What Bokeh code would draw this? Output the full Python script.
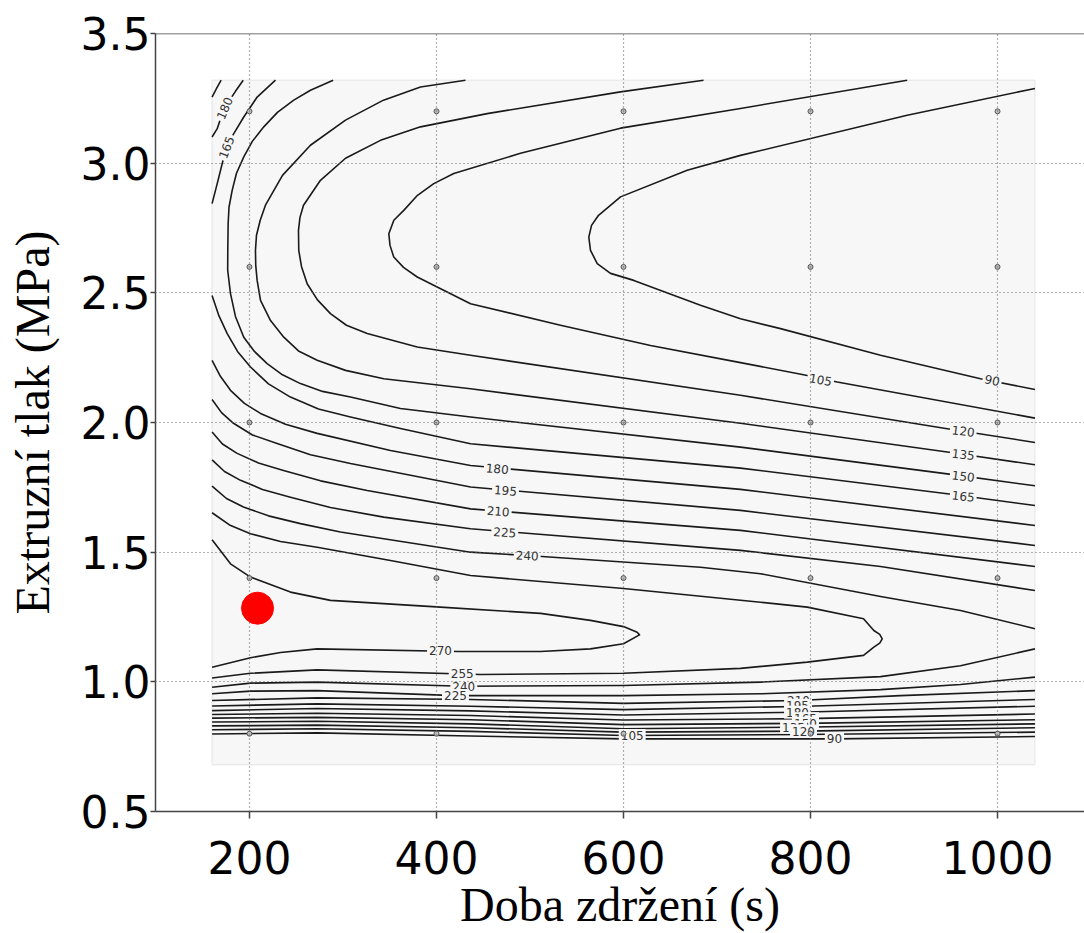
from bokeh.plotting import figure
from bokeh.models import Range1d, FixedTicker, PrintfTickFormatter, ColumnDataSource, Span
from bokeh.core.properties import value
from bokeh.embed import file_html
from bokeh.resources import INLINE

# ---------------- data ----------------
x_ticks = [200, 400, 600, 800, 1000]
y_ticks = [0.5, 1.0, 1.5, 2.0, 2.5, 3.0, 3.5]

design_x = [200, 400, 600, 800, 1000]
design_y = [0.8, 1.4, 2.0, 2.6, 3.2]

domain_x = [160, 1040]
domain_y = [0.68, 3.32]

optimum_x = [208.6]
optimum_y = [1.284]

# contour lines: (doba zdrzeni [s], extruzni tlak [MPa])
c90_top = [(1040, 3.288), (903.4, 3.185), (725.1, 3.030), (668.1, 2.973), (596.8, 2.870),
           (573.3, 2.799), (565.8, 2.760), (562.9, 2.715), (564.7, 2.664), (571.9, 2.613),
           (586.1, 2.575), (611.0, 2.548), (682.3, 2.452), (725.1, 2.400), (767.9, 2.362),
           (874.9, 2.259), (981.8, 2.169), (1040, 2.127)]
c105_top = [(903.4, 3.320), (725.1, 3.211), (596.8, 3.135), (489.8, 3.038), (418.5, 2.960),
            (397.1, 2.921), (379.7, 2.876), (365.0, 2.818), (354.4, 2.780), (349.0, 2.728),
            (350.3, 2.683), (354.3, 2.638), (364.7, 2.598), (379.4, 2.561), (436.4, 2.458),
            (532.6, 2.375), (628.9, 2.297), (725.1, 2.231), (792.5, 2.184), (828.5, 2.156),
            (1040, 2.017)]
c120_top = [(685.6, 3.320), (596.8, 3.275), (454.2, 3.191), (382.9, 3.140), (340.1, 3.088),
            (302.7, 3.019), (275.9, 2.934), (257.8, 2.838), (254.0, 2.791), (252.4, 2.741),
            (252.7, 2.664), (255.6, 2.602), (261.7, 2.535), (272.7, 2.473), (286.6, 2.420),
            (303.7, 2.375), (325.9, 2.343), (379.4, 2.291), (436.4, 2.259), (725.1, 2.105),
            (946.2, 1.976), (1040, 1.923)]
c135_top = [(431.0, 3.320), (382.9, 3.294), (343.3, 3.243), (302.7, 3.166), (265.2, 3.069),
            (235.3, 2.953), (217.1, 2.838), (211.5, 2.780), (207.5, 2.722), (206.4, 2.664),
            (206.7, 2.606), (208.2, 2.548), (211.8, 2.471), (222.5, 2.393), (236.7, 2.329),
            (252.4, 2.276), (272.4, 2.240), (302.7, 2.201), (343.6, 2.169), (436.4, 2.130),
            (725.1, 1.997), (946.2, 1.886), (1040, 1.837)]
c150_top = [(289.5, 3.320), (265.2, 3.281), (247.4, 3.243), (229.9, 3.196), (215.3, 3.140),
            (203.2, 3.085), (193.9, 3.024), (186.1, 2.961), (181.5, 2.895), (178.1, 2.830),
            (177.2, 2.767), (176.8, 2.664), (176.7, 2.587), (179.7, 2.497), (185.0, 2.409),
            (193.9, 2.329), (205.3, 2.274), (218.9, 2.227), (235.3, 2.184), (254.5, 2.150),
            (278.1, 2.120), (308.0, 2.098), (361.5, 2.054), (436.4, 2.021), (725.1, 1.905),
            (946.2, 1.802), (1040, 1.756)]
c165_corner = [(227.8, 3.320), (208.2, 3.255), (193.9, 3.178), (183.2, 3.114), (175.4, 3.061),
               (170.8, 2.998), (165.5, 2.921), (160, 2.844)]
c165_mid = [(160, 2.490), (167.4, 2.411), (176.2, 2.343), (187.2, 2.274), (201.1, 2.214),
            (220.3, 2.149), (243.8, 2.098), (273.8, 2.052), (308.0, 2.021), (361.5, 1.977),
            (436.4, 1.918), (725.1, 1.824), (946.2, 1.725), (1040, 1.680)]
c180_corner = [(193.3, 3.320), (185.0, 3.277), (177.5, 3.236), (171.1, 3.193), (165.5, 3.133),
               (160, 3.101)]
c180_mid = [(160, 2.240), (168.9, 2.178), (179.7, 2.124), (194.6, 2.074), (211.8, 2.035),
            (238.5, 1.993), (272.4, 1.958), (350.8, 1.892), (436.4, 1.834), (725.1, 1.742),
            (1040, 1.603)]
c195_corner = [(169.7, 3.320), (164.8, 3.288), (160, 3.255)]
c195_mid = [(160, 2.089), (170.1, 2.038), (182.9, 1.997), (203.2, 1.952), (229.6, 1.919),
            (265.2, 1.876), (308.0, 1.842), (436.4, 1.751), (725.1, 1.661), (1040, 1.526)]
c210_mid = [(160, 1.963), (171.1, 1.917), (186.8, 1.881), (209.6, 1.844), (236.4, 1.815),
            (276.0, 1.775), (325.9, 1.738), (436.4, 1.667), (725.1, 1.584), (1040, 1.445)]
c225_mid = [(160, 1.856), (173.3, 1.811), (190.4, 1.777), (213.9, 1.742), (243.8, 1.712),
            (286.6, 1.672), (343.6, 1.635), (436.4, 1.590), (725.1, 1.507), (874.9, 1.445),
            (1040, 1.352)]
c240_mid = [(160, 1.755), (175.4, 1.707), (193.6, 1.674), (220.3, 1.640), (254.5, 1.610),
            (297.3, 1.578), (343.6, 1.552), (436.4, 1.500), (497.0, 1.487), (682.3, 1.442),
            (746.5, 1.417), (874.9, 1.329), (960.4, 1.275), (1040, 1.205)]
c255_loop = [(160, 1.652), (178.6, 1.605), (201.1, 1.571), (233.2, 1.541), (272.4, 1.519),
             (350.8, 1.468), (436.4, 1.410), (600, 1.360), (746.5, 1.307), (796.5, 1.288),
             (856.7, 1.243), (867.7, 1.198), (874.0, 1.183), (876.7, 1.166), (874.0, 1.149),
             (867.7, 1.134), (856.7, 1.102), (796.5, 1.076), (725.1, 1.052), (600, 1.033),
             (447.1, 1.028), (272.4, 1.046), (201.1, 1.033), (160, 1.015)]
c270_loop = [(160, 1.548), (179.7, 1.455), (201.1, 1.404), (243.8, 1.346), (286.6, 1.314),
             (404.3, 1.288), (511.2, 1.264), (564.7, 1.237), (600, 1.213), (614.6, 1.191),
             (617.1, 1.181), (600, 1.147), (564.7, 1.127), (511.2, 1.117), (423.5, 1.117),
             (272.4, 1.127), (233.2, 1.113), (201.1, 1.093), (160, 1.056)]
c240_low = [(160, 0.979), (201.1, 0.995), (272.4, 0.999), (428.9, 0.983), (600, 0.986),
            (746.5, 0.999), (874.9, 1.020), (960.4, 1.062), (1040, 1.127)]
c225_low = [(160, 0.954), (201.1, 0.964), (272.4, 0.966), (420.3, 0.947), (600, 0.947),
            (746.5, 0.954), (874.9, 0.970), (960.4, 0.990), (1040, 1.018)]
c210_low = [(160, 0.928), (272.4, 0.938), (436.4, 0.932), (600, 0.917), (786.1, 0.928),
            (896.2, 0.947), (1040, 0.966)]
c195_low = [(160, 0.907), (272.4, 0.915), (436.4, 0.906), (600, 0.893), (786.1, 0.905), (1040, 0.932)]
c180_low = [(160, 0.889), (272.4, 0.897), (436.4, 0.888), (600, 0.872), (786.1, 0.883), (1040, 0.906)]
c165_low = [(160, 0.874), (272.4, 0.879), (436.4, 0.870), (600, 0.853), (794.6, 0.858), (1040, 0.876)]
c150_low = [(160, 0.860), (272.4, 0.863), (436.4, 0.854), (600, 0.835), (794.6, 0.840), (1040, 0.854)]
c135_low = [(160, 0.845), (272.4, 0.848), (436.4, 0.838), (600, 0.819), (781.8, 0.825), (1040, 0.838)]
c120_low = [(160, 0.830), (272.4, 0.833), (436.4, 0.823), (600, 0.806), (792.5, 0.810), (1040, 0.823)]
c105_low = [(160, 0.815), (272.4, 0.819), (436.4, 0.809), (600, 0.793), (792.5, 0.797), (1040, 0.806)]
c90_low = [(160, 0.799), (272.4, 0.803), (436.4, 0.791), (600, 0.780), (825.6, 0.780), (1040, 0.789)]

contours = [
    (90, c90_top), (105, c105_top), (120, c120_top), (135, c135_top), (150, c150_top),
    (165, c165_corner), (165, c165_mid), (180, c180_corner), (180, c180_mid),
    (195, c195_corner), (195, c195_mid), (210, c210_mid), (225, c225_mid), (240, c240_mid),
    (255, c255_loop), (270, c270_loop), (240, c240_low), (225, c225_low), (210, c210_low),
    (195, c195_low), (180, c180_low), (165, c165_low), (150, c150_low), (135, c135_low),
    (120, c120_low), (105, c105_low), (90, c90_low),
]

label_values = [180, 165, 180, 195, 210, 225, 240, 105, 90, 120, 135, 150, 165,
                270, 255, 240, 225, 210, 195, 180, 165, 150, 135, 120, 105, 90]
label_x = [173.3, 175.4, 465.0, 473.8, 466.0, 473.0, 497.0, 810.7, 994.3, 963.3, 963.3, 963.3, 963.3,
           404.3, 427.5, 429.2, 420.3, 787.2, 786.1, 786.1, 794.6, 794.6, 781.8, 792.5, 609.3, 825.6]
label_y = [3.212, 3.061, 1.822, 1.738, 1.658, 1.577, 1.487, 2.165, 2.163, 1.967, 1.877, 1.793, 1.716,
           1.121, 1.031, 0.983, 0.947, 0.928, 0.909, 0.883, 0.858, 0.840, 0.825, 0.810, 0.793, 0.780]
label_angle = [67, 69, -5, -5, -5, -4, -3, -11, -13, -7, -7, -7, -7,
               0, 0, 0, 0, 0, 0, 0, 0, 0, 0, 0, 0, 0]

# ---------------- figure ----------------
p = figure(width=1084, height=933,
           x_range=Range1d(99.5, 1093.0), y_range=Range1d(0.5, 3.5),
           output_backend="svg", toolbar_location=None,
           min_border_left=155, min_border_right=0, min_border_top=33, min_border_bottom=122,
           x_axis_label="Doba zdržení (s)", y_axis_label="Extruzní tlak (MPa)")
p.outline_line_color = None
p.background_fill_color = "white"

# response-surface domain
p.quad(left=[domain_x[0]], right=[domain_x[1]], bottom=[domain_y[0]], top=[domain_y[1]],
       fill_color="#f7f7f7", line_color="#e4e4e4", line_width=1)

# contour lines
src = ColumnDataSource(dict(
    xs=[[pt[0] for pt in pts] for _, pts in contours],
    ys=[[pt[1] for pt in pts] for _, pts in contours],
    level=[lv for lv, _ in contours],
))
p.multi_line(xs="xs", ys="ys", source=src, line_color="#1a1a1a", line_width=1.6,
             line_join="round")

# contour labels
lsrc = ColumnDataSource(dict(x=label_x, y=label_y, text=[str(v) for v in label_values],
                             angle=label_angle))
p.text(x="x", y="y", text="text", angle="angle", angle_units="deg", source=lsrc,
       text_font=value("DejaVu Sans"), text_font_size="12px", text_color="#333333",
       text_align="center", text_baseline="middle",
       background_fill_color="#f7f7f7", padding=2)

# design points
dx = [x for y in design_y for x in design_x]
dy = [y for y in design_y for x in design_x]
p.scatter(dx, dy, size=5, fill_color="#bbbbbb", line_color="#555555", line_width=1)

# optimum
opt = p.scatter(optimum_x, optimum_y, size=32, fill_color="#ff0000", line_color="#ff0000")
opt.level = "overlay"

# axes
for ax in (p.xaxis[0], p.yaxis[0]):
    ax.axis_line_color = "#444444"
    ax.axis_line_width = 1.5
    ax.major_tick_line_color = "#444444"
    ax.major_tick_line_width = 1.5
    ax.major_tick_in = 0
    ax.minor_tick_line_color = None
    ax.major_label_text_font = "DejaVu Sans"
    ax.major_label_text_font_size = "44px"
    ax.major_label_text_color = "black"
    ax.axis_label_text_font = "Liberation Serif"
    ax.axis_label_text_font_size = "48px"
    ax.axis_label_text_font_style = "normal"
    ax.axis_label_text_color = "black"

p.xaxis[0].ticker = FixedTicker(ticks=x_ticks)
p.yaxis[0].ticker = FixedTicker(ticks=y_ticks)
p.yaxis[0].formatter = PrintfTickFormatter(format="%.1f")
p.xaxis[0].major_tick_out = 7
p.xaxis[0].major_label_standoff = 22
p.xaxis[0].axis_label_standoff = 1
p.yaxis[0].major_tick_out = 5
p.yaxis[0].major_label_standoff = 0
p.yaxis[0].axis_label_standoff = 19

# top spine
p.add_layout(Span(location=3.5, dimension="width", line_color="#444444", line_width=1.5))

p.xgrid.ticker = FixedTicker(ticks=x_ticks)
p.ygrid.ticker = FixedTicker(ticks=y_ticks)
p.grid.grid_line_color = "#666666"
p.grid.grid_line_dash = "1 3"
p.grid.grid_line_width = 1.2
p.grid.level = "annotation"

open("out.html", "w").write(file_html(p, INLINE))
